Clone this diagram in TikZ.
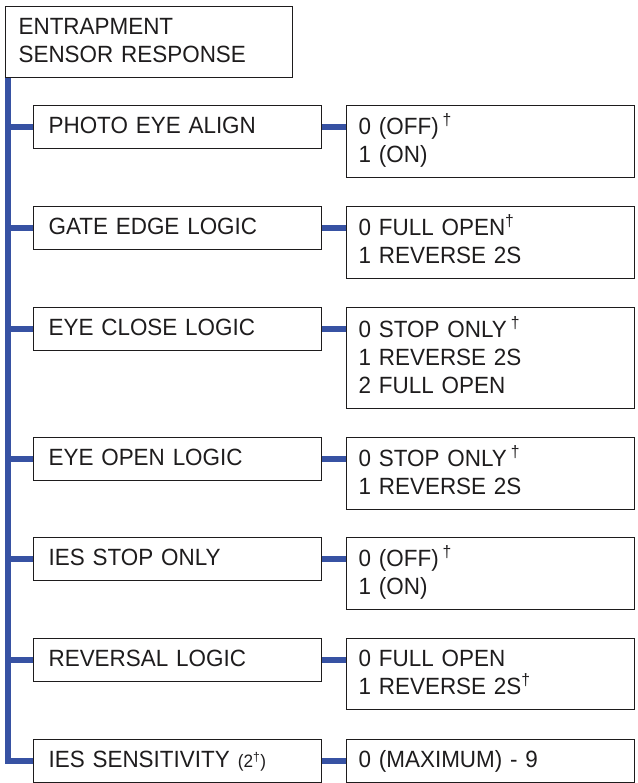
\documentclass[tikz,border=0pt]{standalone}
\usepackage{fontspec}
\setmainfont{Liberation Sans}[FakeStretch=0.955]
\definecolor{trunkblue}{RGB}{55,82,163}
\definecolor{ink}{RGB}{30,28,29}
\newcommand\ls{\rule[-7pt]{0pt}{27pt}}
\newcommand\dg{\textsuperscript{†}}
\tikzset{
  box/.style={draw=ink, line width=1.2pt, anchor=north west, align=left,
    inner ysep=8pt, font=\fontsize{23.5}{28}\selectfont, text=ink},
  lbox/.style={box, text width=258pt, inner xsep=15pt},
  rbox/.style={box, text width=264pt, inner xsep=12pt},
  tbox/.style={box, text width=261pt, inner xsep=13pt},
  bl/.style={draw=trunkblue, line width=5.5pt}
}
\begin{document}
\begin{tikzpicture}[x=1pt,y=-1pt]
\useasboundingbox (0,0) rectangle (637,783);
\node[tbox] (top) at (5,6) {\ls ENTRAPMENT\\\ls SENSOR RESPONSE};
\node[lbox] (l1) at (33,105) {\ls PHOTO EYE ALIGN};
\node[rbox] (r1) at (346,105) {\ls 0 (OFF)\,\dg\\\ls 1 (ON)};
\node[lbox] (l2) at (33,206) {\ls GATE EDGE LOGIC};
\node[rbox] (r2) at (346,206) {\ls 0 FULL OPEN\dg\\\ls 1 REVERSE 2S};
\node[lbox] (l3) at (33,307) {\ls EYE CLOSE LOGIC};
\node[rbox, minimum height=101pt] (r3) at (346,307) {\ls 0 STOP ONLY\,\dg\\\ls 1 REVERSE 2S\\\ls 2 FULL OPEN};
\node[lbox] (l4) at (33,437) {\ls EYE OPEN LOGIC};
\node[rbox] (r4) at (346,437) {\ls 0 STOP ONLY\,\dg\\\ls 1 REVERSE 2S};
\node[lbox] (l5) at (33,537) {\ls IES STOP ONLY};
\node[rbox] (r5) at (346,537) {\ls 0 (OFF)\,\dg\\\ls 1 (ON)};
\node[lbox] (l6) at (33,638) {\ls REVERSAL LOGIC};
\node[rbox] (r6) at (346,638) {\ls 0 FULL OPEN\\\ls 1 REVERSE 2S\dg};
\node[lbox] (l7) at (33,739) {\ls IES SENSITIVITY\hspace{8pt}{\fontsize{18}{18}\selectfont (2\dg)}};
\node[rbox] (r7) at (346,739) {\ls 0 (MAXIMUM) - 9};
\coordinate (tr) at ([xshift=3pt]top.south west);
\draw[bl] (tr) |- (l7.west);
\foreach \i in {1,...,6} {\draw[bl] (l\i.west -| tr) -- (l\i.west);}
\foreach \i in {1,...,7} {\draw[bl] (l\i.east) -- (l\i.east -| r\i.west);}
\end{tikzpicture}
\end{document}
